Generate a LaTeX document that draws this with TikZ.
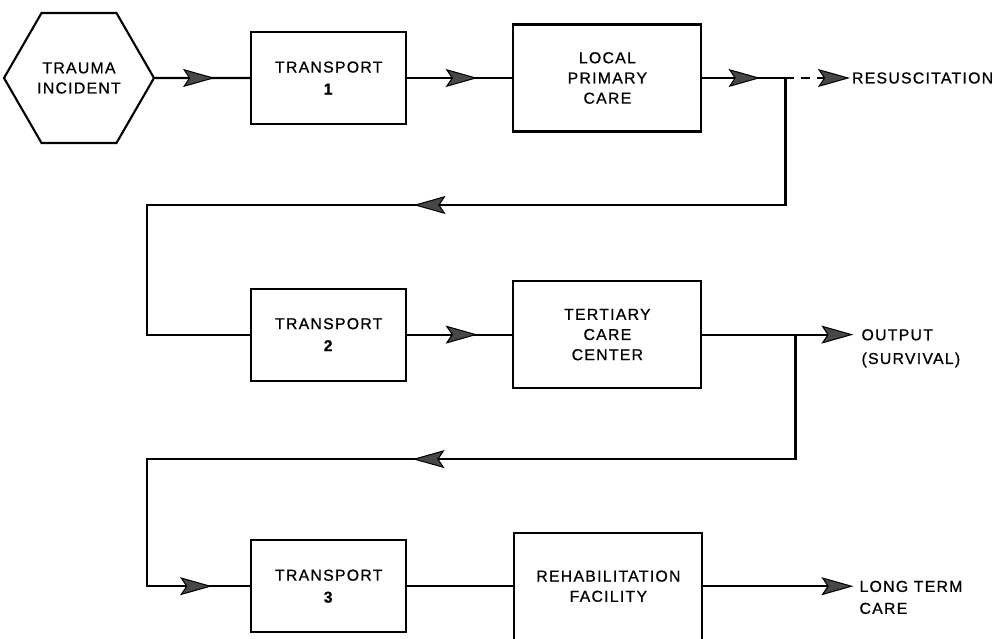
\documentclass[tikz,border=0pt]{standalone}
\usepackage{fontspec}
\setmainfont{Liberation Sans}[LetterSpace=8, FakeBold=0.8]
\usepackage{tikz}
\usetikzlibrary{shapes.geometric, arrows.meta, positioning, decorations.markings}

\begin{document}
\begin{tikzpicture}[
        font=\fontsize{9}{11.5}\selectfont,
        box/.style={rectangle, draw, line width=1.2pt, align=center, minimum width=3.1cm, minimum height=1.84cm},
        widebox/.style={box, minimum width=3.76cm, minimum height=2.14cm},
        hexbox/.style={regular polygon, regular polygon sides=6, draw, line width=1.2pt, minimum size=3cm, inner sep=0pt, align=center},
        outtext/.style={align=left, inner sep=1pt},
        flow/.style={line width=1.2pt},
        arr/.tip={Stealth[length=0.64cm, width=0.36cm, inset=0.12cm, fill=black!72, line width=0.6pt]},
        midarrow/.style={postaction={decorate, decoration={markings, mark=at position #1 with {\arrow{arr}}}}}
    ]

    \useasboundingbox (0,0) rectangle (19.96,-12.78);

    \node[hexbox] (trauma) at (1.58,-1.56) {TRAUMA\\INCIDENT};
    \node[box, right=1.9cm of trauma] (trans1) {TRANSPORT\\[1pt]\textbf{1}};
    \node[widebox, right=2.1cm of trans1] (local) {LOCAL\\PRIMARY\\CARE};
    \node[outtext, right=2.95cm of local] (resus) {RESUSCITATION};

    \node[box, below=3.25cm of trans1] (trans2) {TRANSPORT\\[1pt]\textbf{2}};
    \node[widebox, right=2.1cm of trans2] (tertiary) {TERTIARY\\CARE\\CENTER};
    \coordinate[right=3.02cm of tertiary] (outtip);
    \node[outtext, anchor=north west] (survival) at ([xshift=0.12cm, yshift=0.15cm]outtip) {OUTPUT\\[2pt](SURVIVAL)};

    \node[box, below=3.15cm of trans2] (trans3) {TRANSPORT\\[1pt]\textbf{3}};
    \node[widebox, right=2.12cm of trans3] (rehab) {REHABILITATION\\FACILITY};
    \coordinate[right=3cm of rehab] (ltctip);
    \node[outtext, anchor=north west] (longterm) at ([xshift=0.08cm, yshift=0.15cm]ltctip) {LONG TERM\\[1pt]CARE};

    \coordinate (fork1) at ([xshift=1.66cm]local.east);
    \coordinate (fork2) at ([xshift=1.86cm]tertiary.east);
    \coordinate (back) at ([xshift=-2.06cm]trans1.west);
    \coordinate (ret1) at ([yshift=-2.54cm]fork1);
    \coordinate (ret2) at ([yshift=-2.49cm]fork2);

    \draw[flow, midarrow=0.63] (trauma) -- (trans1);
    \draw[flow, midarrow=0.67] (trans1) -- (local);
    \draw[flow, midarrow=0.7] (local.east) -- (fork1);
    \draw[flow, dash pattern=on 5pt off 4pt, -{arr}] (fork1) -- (resus.west);
    \draw[flow, midarrow=0.5] (fork1) |- (back |- ret1) |- (trans2.west);

    \draw[flow, midarrow=0.67] (trans2) -- (tertiary);
    \draw[flow, -{arr}] (tertiary) -- (outtip);
    \draw[flow, midarrow=0.506, midarrow=0.962] (fork2) |- (back |- ret2) |- (trans3.west);

    \draw[flow] (trans3) -- (rehab);
    \draw[flow, -{arr}] (rehab) -- (ltctip);

\end{tikzpicture}
\end{document}
